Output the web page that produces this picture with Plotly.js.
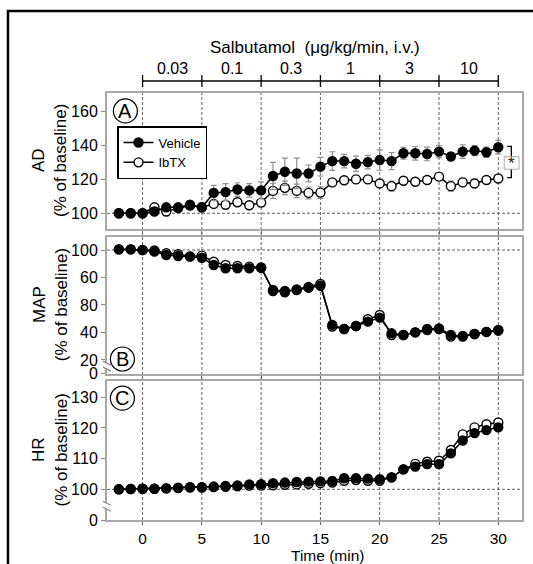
<!DOCTYPE html>
<html><head><meta charset="utf-8">
<script src="https://cdn.plot.ly/plotly-3.0.1.min.js"></script>
<style>html,body{margin:0;padding:0;background:#fff;}#chart{width:533px;height:564px;}</style>
</head><body><div id="chart"></div>
<script>
const time = [-2,-1,0,1,2,3,4,5,6,7,8,9,10,11,12,13,14,15,16,17,18,19,20,21,22,23,24,25,26,27,28,29,30];
const doseLabels = ['0.03','0.1','0.3','1','3','10'];
const doseCenters = [2.5,7.5,12.5,17.5,22.5,27.5];
const doseEdges = [0,5,10,15,20,25,30];
const xTicks = [0,5,10,15,20,25,30];

const adVehicle = [100,100,100,101,103.5,103.5,105,103.5,112,112.5,114,113.5,113.5,122,124.5,123.5,123.5,127.5,130.8,130.8,129.2,130.2,131.4,130.8,135.4,135.4,135,136.4,133.5,136.4,137,136,139];
const adVehicleErr = [0,0,0.5,1.5,2,2,1.5,2.5,4.5,5,4,4,5,8,8,9,5,5.5,5.5,4,4.5,4,6,5,3.5,4,4,3.5,2,4,3,3,4];
const adIbtx = [100,100,100,103.5,101,103,104.5,103.5,105.5,105,106.5,104.7,106.3,113.2,115,113.2,112,112.2,118.2,119.5,120,120,117.6,116,119.2,118.6,119.6,121.6,116,118.2,117.6,119.6,120.5];
const adIbtxErr = [0,0,0.5,1,1.5,1.5,1.5,1.5,2,2,2,2,2,4.5,4,4,3.5,3.5,2,2,2,2,2,3,2,2,2,2,3,2.5,2.5,2,1.5];

const mapVehicle = [100.5,100.5,100,98.8,96.4,95.6,95.2,94.4,89.1,86.7,86.7,86.7,87.1,70.9,70.2,70.9,72.6,74,45.5,42.5,44.7,47.9,50.8,39.4,38.2,40.1,42.5,43,38.2,37.5,38.9,40.4,41.8];
const mapVehicleErr = [0.5,0.5,0.5,1,1,1,1,1,1,1,1,1,1,1.2,1.2,1.2,1.5,1.5,1.5,1.2,1.2,1.5,1.5,1.5,1.2,1.2,1.5,1.5,1.2,1.2,1.2,1.2,1.2];
const mapIbtx = [100.5,100.5,100,99.7,97.6,96.9,95.4,95.9,91.5,89.1,88.4,87.9,87.3,70.2,69.2,71.4,73.1,75.3,44.3,42.5,44.7,49.6,52.7,38.2,38.2,40.1,41.7,42.5,37,37,38.9,40.4,41.3];
const mapIbtxErr = [0.5,0.5,0.5,1,1,1,1,1.5,1.5,1.5,1.5,1.5,1.5,1.5,1.5,1.5,1.5,1.5,1.5,1.5,1.5,1.5,1.5,1.5,1.5,1.5,1.5,1.5,1.5,1.5,1.5,1.5,1.5];

const hrVehicle = [100,100.1,100.2,100.2,100.3,100.5,100.7,100.7,100.9,101.1,101.3,101.6,101.7,102,102.2,102.4,102.5,102.6,102.7,103.6,103.6,103.5,103.3,103.9,106.5,107.4,108.2,108.2,111.7,115.9,118.3,119.3,120.2];
const hrVehicleErr = [0.2,0.2,0.2,0.3,0.3,0.3,0.3,0.3,0.4,0.4,0.4,0.5,0.5,0.5,0.5,0.5,0.5,0.5,0.6,0.8,0.8,0.8,0.8,0.8,1.2,1.3,1.3,1.3,1,1,1,1,1.2];
const hrIbtx = [100,100.1,100.2,100.2,100.3,100.4,100.6,100.6,100.7,100.8,101,101.2,101.2,101.3,101.5,101.6,101.8,102,102.2,102.8,103,102.8,102.8,103.9,106.5,108.3,109,109.3,112.8,117.9,120.2,121.2,121.8];
const hrIbtxErr = [0.2,0.2,0.2,0.3,0.3,0.3,0.3,0.3,0.4,0.4,0.4,0.5,0.5,0.5,0.5,0.5,0.5,0.5,0.6,0.8,0.8,0.8,0.8,0.8,1.2,1.3,1.3,1.3,1,1,1,1,1.2];

const FONT = '"Liberation Sans", Arial, sans-serif';
const ERRC = '#909090';
const FRAME = '#a8a8a8';

function series(x, y, err, xa, ya, open, name, showleg) {
  return {
    type: 'scatter', mode: 'lines+markers', x: x, y: y, xaxis: xa, yaxis: ya,
    name: name, showlegend: showleg,
    line: {color: '#000', width: 1.5},
    marker: {size: 9, symbol: 'circle', color: open ? '#fff' : '#000', line: {color: '#000', width: 1.4}},
    error_y: {type: 'data', array: err, visible: true, color: ERRC, thickness: 1.2, width: 3}
  };
}

const data = [
  series(time, adIbtx, adIbtxErr, 'x', 'y', true, 'IbTX', true),
  series(time, adVehicle, adVehicleErr, 'x', 'y', false, 'Vehicle', true),
  series(time, mapIbtx, mapIbtxErr, 'x2', 'y2', true, 'IbTX', false),
  series(time, mapVehicle, mapVehicleErr, 'x2', 'y2', false, 'Vehicle', false),
  series(time, hrIbtx, hrIbtxErr, 'x3', 'y3', true, 'IbTX', false),
  series(time, hrVehicle, hrVehicleErr, 'x3', 'y3', false, 'Vehicle', false)
];

const xRange = [-3, 32];
function xax(anchor, labels) {
  return {
    domain: [0, 1], anchor: anchor, range: xRange, tickvals: xTicks,
    showticklabels: labels, ticks: 'outside', ticklen: 3, tickcolor: '#666', tickwidth: 1,
    showgrid: false, zeroline: false, showline: true, mirror: true, linecolor: FRAME, linewidth: 2,
    tickfont: {size: 15.5, color: '#000'}
  };
}
function yax(anchor, domain, range, vals, text) {
  return {
    domain: domain, anchor: anchor, range: range, tickvals: vals, ticktext: text,
    ticks: 'outside', ticklen: 4, tickcolor: '#888', tickwidth: 1,
    showgrid: false, zeroline: false, showline: true, mirror: true, linecolor: FRAME, linewidth: 2,
    tickfont: {size: 16, color: '#000'}
  };
}

const shapes = [];
const annotations = [];

// outer frame
shapes.push({type: 'rect', xref: 'paper', yref: 'paper', x0: -0.2386, x1: 1.3, y0: -0.3, y1: 1.192,
  line: {color: '#000', width: 2.5}, fillcolor: 'rgba(0,0,0,0)', layer: 'below'});

// vertical dashed lines spanning all panels
xTicks.forEach(v => shapes.push({type: 'line', xref: 'x', yref: 'paper', x0: v, x1: v, y0: 0, y1: 1,
  line: {color: '#606060', width: 1, dash: '3px,2px'}, layer: 'below'}));

// horizontal dashed baseline in each panel
[['x domain','y'],['x2 domain','y2'],['x3 domain','y3']].forEach(p => shapes.push({type: 'line', xref: p[0], yref: p[1],
  x0: 0, x1: 1, y0: 100, y1: 100, line: {color: '#606060', width: 1, dash: '3px,2px'}, layer: 'below'}));

// dose bracket
shapes.push({type: 'line', xref: 'x', yref: 'paper', x0: 0, x1: 30, y0: 1.0281, y1: 1.0281, line: {color: '#000', width: 1.3}});
doseEdges.forEach(v => shapes.push({type: 'line', xref: 'x', yref: 'paper', x0: v, x1: v, y0: 1.014, y1: 1.042, line: {color: '#000', width: 1.3}}));
doseLabels.forEach((t, i) => annotations.push({xref: 'x', yref: 'paper', x: doseCenters[i], y: 1.0585, text: t,
  showarrow: false, font: {size: 16, color: '#000'}, yanchor: 'middle'}));
annotations.push({xref: 'paper', yref: 'paper', x: (315 - 107) / 415, y: 1.1077, text: 'Salbutamol  (μg/kg/min, i.v.)',
  showarrow: false, font: {size: 17, color: '#000'}, yanchor: 'middle'});

// x title
annotations.push({xref: 'paper', yref: 'paper', x: (327 - 107) / 415, y: -(555 - 520) / 427, text: 'Time (min)',
  showarrow: false, font: {size: 15.5, color: '#000'}, xanchor: 'center', yanchor: 'middle'});

// y titles
[['y domain','AD'],['y2 domain','MAP'],['y3 domain','HR']].forEach(p => annotations.push({xref: 'paper', yref: p[0],
  x: (50 - 107) / 415, y: 0.5, text: p[1] + '<br>(% of baseline)', textangle: -90, showarrow: false,
  font: {size: 17, color: '#000'}, xanchor: 'center', yanchor: 'middle'}));

// panel letters
[['x','y',-1.45,160.4,'A'],['x2','y2',-1.7,20.7,'B'],['x3','y3',-1.7,129.7,'C']].forEach(p => {
  shapes.push({type: 'circle', xref: p[0], yref: p[1], xsizemode: 'pixel', ysizemode: 'pixel',
    xanchor: p[2], yanchor: p[3], x0: -12, x1: 12, y0: -12, y1: 12, line: {color: '#000', width: 1.2}, fillcolor: 'rgba(255,255,255,0)'});
  annotations.push({xref: p[0], yref: p[1], x: p[2], y: p[3], text: p[4], showarrow: false,
    font: {size: 20, color: '#000'}, xanchor: 'center', yanchor: 'middle'});
});

// axis break marks
[['x2 domain','y2',15.5],['x3 domain','y3',94.5]].forEach(p => {
  shapes.push({type: 'rect', xref: p[0], yref: p[1], xsizemode: 'pixel', ysizemode: 'pixel', xanchor: 0, yanchor: p[2],
    x0: -3, x1: 3, y0: -3, y1: 3, line: {width: 0}, fillcolor: '#fff'});
  shapes.push({type: 'path', xref: p[0], yref: p[1], xsizemode: 'pixel', ysizemode: 'pixel', xanchor: 0, yanchor: p[2],
    path: 'M-4,-1 L4,-5 M-4,5 L4,1', line: {color: '#888', width: 1.2}});
});

// significance bracket
shapes.push({type: 'path', xref: 'x', yref: 'y', path: 'M 30.75 139.5 L 31.1 139.5 L 31.1 121 L 30.75 121', line: {color: '#000', width: 1.3}});
shapes.push({type: 'rect', xref: 'x', yref: 'y', x0: 30.5, x1: 31.75, y0: 126.0, y1: 133.4, line: {color: '#aaa', width: 1}, fillcolor: '#fff'});
annotations.push({xref: 'x', yref: 'y', x: 31.12, y: 129.2, text: '*', showarrow: false, font: {size: 17, color: '#222'}, yanchor: 'middle'});

const layout = {
  width: 533, height: 564,
  margin: {l: 107, r: 11, t: 93, b: 44},
  paper_bgcolor: '#fff', plot_bgcolor: 'rgba(0,0,0,0)',
  font: {family: FONT, color: '#000'},
  showlegend: true,
  legend: {x: (117 - 107) / 415, y: 1 - (126 - 93) / 427, xanchor: 'left', yanchor: 'top',
    bordercolor: '#000', borderwidth: 1.5, bgcolor: '#fff', font: {size: 13, color: '#000'},
    itemwidth: 30, traceorder: 'reversed', tracegroupgap: 0},
  xaxis: xax('y', false),
  xaxis2: xax('y2', false),
  xaxis3: xax('y3', true),
  yaxis: yax('x', [0.6815, 1], [90.7, 171], [100, 120, 140, 160], ['100','120','140','160']),
  yaxis2: yax('x2', [0.3426, 0.6635], [10, 109.7], [10, 20, 40, 60, 80, 100], ['0','20','40','80','60','100']),
  yaxis3: yax('x3', [0, 0.3255], [90, 135.3], [90, 100, 110, 120, 130], ['0','100','110','120','130']),
  shapes: shapes, annotations: annotations
};

Plotly.newPlot('chart', data, layout, {displayModeBar: false, staticPlot: true});
</script>
</body></html>
